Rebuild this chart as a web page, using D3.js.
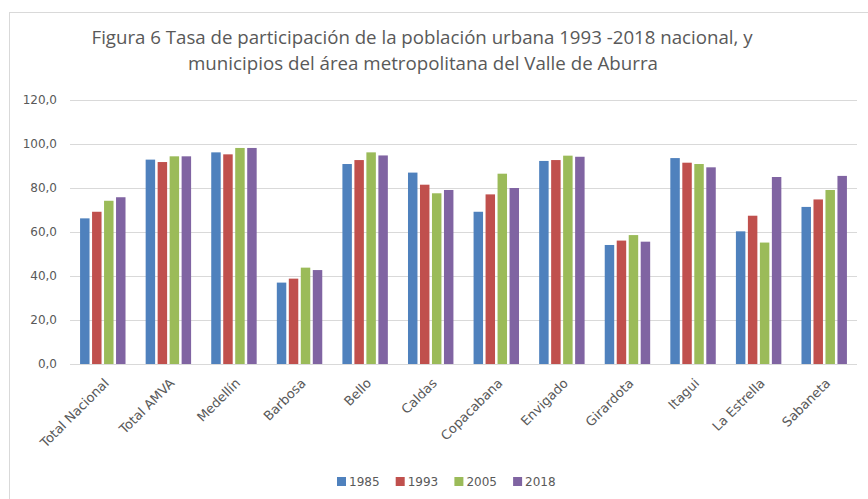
<!DOCTYPE html>
<html>
<head>
<meta charset="utf-8">
<script src="https://cdn.jsdelivr.net/npm/d3@7.9.0/dist/d3.min.js"></script>
<style>
  body { margin: 0; background: #fff; }
  svg { display: block; }
</style>
</head>
<body>
<svg id="chart" width="868" height="499"></svg>
<script>
const categories = ["Total Nacional", "Total AMVA", "Medellín", "Barbosa", "Bello", "Caldas",
  "Copacabana", "Envigado", "Girardota", "Itagui", "La Estrella", "Sabaneta"];
const years = ["1985", "1993", "2005", "2018"];
const v1985 = [66.2, 92.9, 96.2, 37.0, 90.9, 87.0, 69.2, 92.3, 54.1, 93.6, 60.3, 71.4];
const v1993 = [69.2, 91.8, 95.3, 38.8, 92.7, 81.5, 77.1, 92.7, 56.1, 91.5, 67.4, 74.8];
const v2005 = [74.2, 94.4, 98.2, 43.8, 96.2, 77.6, 86.5, 94.7, 58.6, 90.9, 55.2, 79.1];
const v2018 = [75.8, 94.4, 98.2, 42.7, 94.8, 79.1, 80.0, 94.2, 55.6, 89.4, 85.0, 85.5];
const yTicks = [0, 20, 40, 60, 80, 100, 120];
const colors = ["#4F81BD", "#C0504D", "#9BBB59", "#8064A2"];

const series = [v1985, v1993, v2005, v2018];
const svg = d3.select("#chart");
const textColor = "#595959";

// chart frame
svg.append("rect")
  .attr("x", 9.5).attr("y", 12.5)
  .attr("width", 870).attr("height", 500)
  .attr("fill", "none").attr("stroke", "#d9d9d9");

// title
const title = svg.append("text")
  .attr("fill", textColor)
  .attr("font-family", "'Liberation Sans Narrow', 'Open Sans', sans-serif")
  .attr("font-size", 19)
  .attr("text-anchor", "middle");
title.append("tspan").attr("x", 422).attr("y", 44)
  .attr("textLength", 661).attr("lengthAdjust", "spacingAndGlyphs")
  .text("Figura 6 Tasa de participación de la población urbana 1993 -2018 nacional, y");
title.append("tspan").attr("x", 423).attr("y", 70)
  .attr("textLength", 470).attr("lengthAdjust", "spacingAndGlyphs")
  .text("municipios del área metropolitana del Valle de Aburra");

const x0 = d3.scaleBand().domain(categories).range([70, 857]).padding(0);
const x1 = d3.scaleBand().domain(years).range([0, x0.bandwidth()])
  .paddingInner(0.21).paddingOuter(0.84);
const y = d3.scaleLinear().domain([0, 120]).range([364, 100]);

// gridlines
svg.append("g").selectAll("line")
  .data(yTicks)
  .join("line")
  .attr("x1", 70).attr("x2", 857)
  .attr("y1", d => Math.round(y(d)) + 0.5).attr("y2", d => Math.round(y(d)) + 0.5)
  .attr("stroke", "#d9d9d9");

// y axis labels
const yAxis = svg.append("g")
  .attr("transform", "translate(62,0)")
  .call(d3.axisLeft(y).tickValues(yTicks).tickSize(0).tickPadding(5)
    .tickFormat(d => d3.format(".1f")(d).replace(".", ",")));
yAxis.select(".domain").remove();
yAxis.selectAll("text")
  .attr("fill", textColor)
  .attr("font-family", "'DejaVu Sans', sans-serif")
  .attr("font-size", 12);

// bars
const groups = svg.append("g").selectAll("g")
  .data(categories)
  .join("g")
  .attr("transform", d => `translate(${x0(d)},0)`);

groups.selectAll("rect")
  .data((d, i) => years.map((yr, k) => ({ yr, k, v: series[k][i] })))
  .join("rect")
  .attr("x", d => x1(d.yr))
  .attr("width", x1.bandwidth())
  .attr("y", d => y(d.v))
  .attr("height", d => y(0) - y(d.v))
  .attr("fill", d => colors[d.k]);

// x axis labels
const xAxis = svg.append("g")
  .attr("transform", `translate(0,${y(0)})`)
  .call(d3.axisBottom(x0).tickSize(0).tickPadding(0));
xAxis.select(".domain").remove();
xAxis.selectAll("text")
  .attr("fill", textColor)
  .attr("font-family", "'DejaVu Sans', sans-serif")
  .attr("font-size", 13)
  .attr("text-anchor", "end")
  .attr("dy", 0)
  .attr("transform", "translate(7,20) rotate(-45)");

// legend
const legend = svg.append("g").attr("transform", "translate(337,477)");
const item = legend.selectAll("g")
  .data(years)
  .join("g")
  .attr("transform", (d, i) => `translate(${i * 58.7},0)`);
item.append("rect")
  .attr("width", 9).attr("height", 9)
  .attr("fill", (d, i) => colors[i]);
item.append("text")
  .attr("x", 12).attr("y", 9)
  .attr("fill", textColor)
  .attr("font-family", "'DejaVu Sans', sans-serif")
  .attr("font-size", 12)
  .text(d => d);
</script>
</body>
</html>
